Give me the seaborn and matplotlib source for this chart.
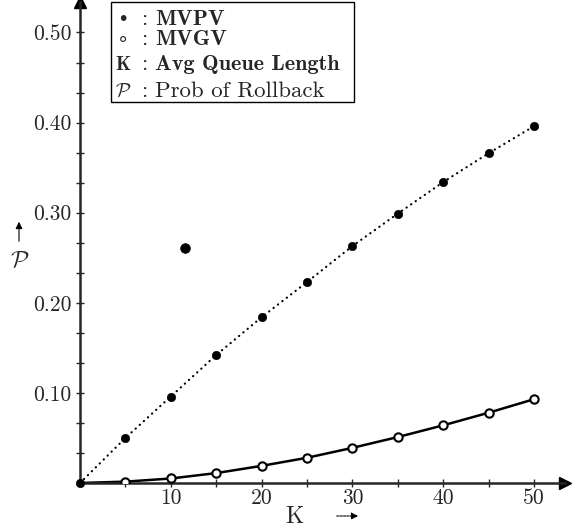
import matplotlib
matplotlib.use('Agg')
import matplotlib.pyplot as plt
from matplotlib.patches import Rectangle
import seaborn as sns

# K = average queue length
k_values = [0, 5, 10, 15, 20, 25, 30, 35, 40, 45, 50]
mvpv = [0.0, 0.050, 0.096, 0.142, 0.184, 0.223, 0.263, 0.299, 0.334, 0.366, 0.396]
mvgv = [0.0, 0.0015, 0.005, 0.011, 0.019, 0.028, 0.039, 0.051, 0.064, 0.078, 0.093]
stray_k = [11.6]
stray_p = [0.261]

y_major = [0.10, 0.20, 0.30, 0.40, 0.50]
y_labels = ['0.10', '0.20', '0.30', '0.40', '0.50']
x_major = [10, 20, 30, 40, 50]
x_labels = ['10', '20', '30', '40', '50']

W, H = 573, 531


def px(x, y):
    """pixel position (from top-left) -> figure fraction"""
    return x / W, 1 - y / H


sns.set_style('ticks')
plt.rcParams['font.family'] = ['cmr10', 'DejaVu Serif']
plt.rcParams['mathtext.fontset'] = 'cm'
plt.rcParams['axes.formatter.use_mathtext'] = True

fig = plt.figure(figsize=(W / 100, H / 100), dpi=100)
ax = fig.add_axes([80 / W, 48 / H, 485 / W, 481 / H])

sns.lineplot(x=k_values, y=mvpv, ax=ax, color='black', lw=1.6,
             linestyle=(0, (0.1, 2.4)), dash_capstyle='round')
sns.lineplot(x=k_values, y=mvgv, ax=ax, color='black', lw=1.8)
sns.scatterplot(x=k_values, y=mvpv, ax=ax, color='black', s=36,
                edgecolor='black', zorder=4, clip_on=False)
sns.scatterplot(x=k_values[1:], y=mvgv[1:], ax=ax, color='white', s=36,
                edgecolor='black', linewidth=1.5, zorder=3)
sns.scatterplot(x=stray_k, y=stray_p, ax=ax, color='black', s=48,
                edgecolor='black', zorder=4)

ax.set_xlim(0, 485 / 9.08)
ax.set_ylim(0, 481 / 901)

ax.spines[['top', 'right']].set_visible(False)
for s in ['left', 'bottom']:
    ax.spines[s].set_linewidth(1.8)
ax.plot(1, 0, marker='>', color='k', ms=9, transform=ax.transAxes, clip_on=False)
ax.plot(0, 1, marker='^', color='k', ms=9, transform=ax.transAxes, clip_on=False)

ax.set_yticks(y_major)
ax.set_yticklabels(y_labels, fontsize=15.5)
ax.set_yticks([i / 30 for i in range(1, 16) if i % 3], minor=True)
ax.set_xticks(x_major)
ax.set_xticklabels(x_labels, fontsize=15.5)
ax.set_xticks([5, 15, 25, 35, 45], minor=True)
ax.tick_params(axis='both', which='both', direction='inout', length=6, width=1)
ax.tick_params(axis='x', pad=1)
ax.tick_params(axis='y', pad=3)
ax.set_xlabel('')
ax.set_ylabel('')

# axis labels with little arrows
fig.text(*px(294, 523), 'K', fontsize=17, ha='center', va='baseline')
ax.annotate('', xy=px(361, 516), xytext=px(334, 516), xycoords='figure fraction',
            arrowprops=dict(arrowstyle='-|>', lw=0.8, ls=(0, (2, 1)), color='k',
                            mutation_scale=10))
fig.text(*px(20, 267), r'$\mathcal{P}$', fontsize=17, ha='center', va='baseline')
ax.annotate('', xy=px(19, 219), xytext=px(19, 244), xycoords='figure fraction',
            arrowprops=dict(arrowstyle='-|>', lw=0.8, color='k', mutation_scale=10))

# key box
fig.add_artist(Rectangle(px(111, 102), (354 - 111) / W, 100 / H, transform=fig.transFigure,
                         facecolor='white', edgecolor='black', lw=1))
rows = [
    (25, '•', 'MVPV', 'cmb10', 'DejaVu Sans', 16),
    (45, '∘', 'MVGV', 'cmb10', 'DejaVu Sans', 16),
    (70, 'K', 'Avg Queue Length', 'cmb10', 'cmb10', 16),
    (97, r'$\mathcal{P}$', 'Prob of Rollback', 'cmr10', 'cmr10', 16.5),
]
for base, sym, txt, fam, sym_fam, size in rows:
    fig.text(*px(123, base), sym, fontsize=14, ha='center', va='baseline', family=sym_fam)
    fig.text(*px(144, base), ':', fontsize=size, ha='center', va='baseline')
    fig.text(*px(155, base), txt, fontsize=size, ha='left', va='baseline', family=fam)

fig.savefig('out.png', dpi=100)
